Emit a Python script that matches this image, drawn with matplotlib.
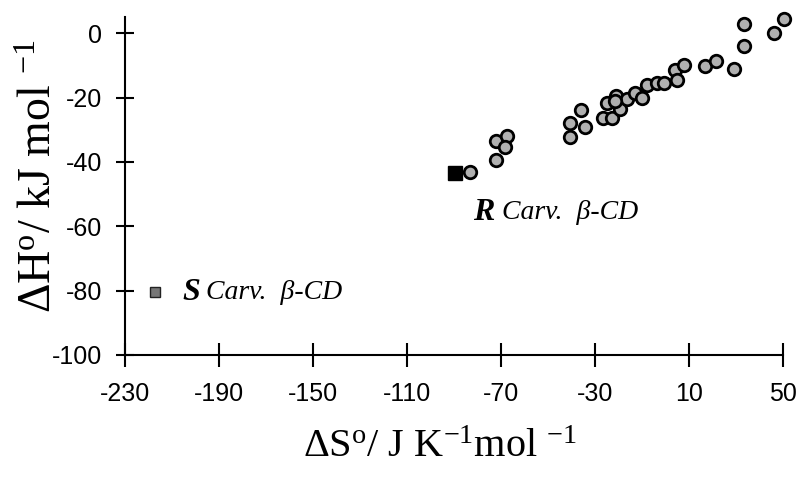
import matplotlib
matplotlib.use('Agg')
import matplotlib.pyplot as plt

# Entropy / enthalpy pairs
dS_other = [-83.1, -72.1, -72.2, -67.4, -68.5, -40.8, -40.8, -36.1, -34.1,
            -26.5, -22.6, -25.1, -19.5, -20.9, -16.4, -12.9, -10.0, -7.9,
            -3.7, -0.9, 4.0, 4.8, 8.0, 16.7, 21.3, 29.0, 33.4, 33.4, 46.1, 50.2,
            -21.5]
dH_other = [-43.0, -39.4, -33.4, -32.0, -35.3, -32.2, -27.9, -23.9, -29.3,
            -26.5, -26.2, -21.8, -23.4, -19.6, -20.3, -18.7, -20.0, -16.1,
            -15.4, -15.4, -11.5, -14.4, -9.9, -10.1, -8.7, -11.2, -3.9, 3.0, 0.1, 4.3,
            -21.2]

dS_R, dH_R = -89.4, -43.4
dS_S, dH_S = -217.3, -80.5

x_ticks = [-230, -190, -150, -110, -70, -30, 10, 50]
y_ticks = [0, -20, -40, -60, -80, -100]

plt.rcParams['mathtext.fontset'] = 'custom'
plt.rcParams['mathtext.rm'] = 'Liberation Serif'
plt.rcParams['mathtext.it'] = 'Liberation Serif:italic'
plt.rcParams['mathtext.default'] = 'regular'

fig = plt.figure(figsize=(8, 4.82), dpi=100)
ax = fig.add_axes([0.156, 0.2635, 0.823, 0.701])

ax.plot(dS_other, dH_other, 'o', markersize=9, markerfacecolor='#b0b0b0',
        markeredgecolor='black', markeredgewidth=2.0, clip_on=False, zorder=3)
ax.plot([dS_R], [dH_R], 's', markersize=10.5, color='black', clip_on=False, zorder=3)
ax.plot([dS_S], [dH_S], 's', markersize=7, markerfacecolor='#777777',
        markeredgecolor='#222222', markeredgewidth=1, clip_on=False, zorder=3)

# labels for the two carvone points
ax.text(-82, -55.6, 'R', fontfamily='Liberation Serif', fontsize=23,
        fontweight='bold', fontstyle='italic', ha='left', va='center')
ax.annotate('Carv.  β-CD', xy=(-82, -55.6), xytext=(21, 0), textcoords='offset points',
            fontfamily='Liberation Serif', fontsize=20, fontstyle='italic',
            ha='left', va='center')
ax.text(-205.5, -80.7, 'S', fontfamily='Liberation Serif', fontsize=23,
        fontweight='bold', fontstyle='italic', ha='left', va='center')
ax.annotate('Carv.  β-CD', xy=(-205.5, -80.7), xytext=(17, 0), textcoords='offset points',
            fontfamily='Liberation Serif', fontsize=20, fontstyle='italic',
            ha='left', va='center')

ax.set_xlim(-230, 50)
ax.set_ylim(-100, 5)
ax.set_xticks(x_ticks)
ax.set_yticks(y_ticks)
ax.set_xticklabels([str(v) for v in x_ticks], fontfamily='Liberation Sans', fontsize=18)
ax.set_yticklabels([str(v) for v in y_ticks], fontfamily='Liberation Sans', fontsize=18)

for s in ['top', 'right']:
    ax.spines[s].set_visible(False)
for s in ['left', 'bottom']:
    ax.spines[s].set_linewidth(1.5)
ax.tick_params(axis='x', direction='inout', length=17, width=1.5, pad=11)
ax.tick_params(axis='y', direction='inout', length=13, width=1.5, pad=10)

fig.text(0.55, 0.072, r'$\Delta$S$^{o}$/ J K$^{-1}$mol $^{-1}$', fontfamily='Liberation Serif',
         fontsize=29, ha='center', va='center')
fig.text(0.05, 0.635, r'$\Delta$H$^{o}$/ kJ mol $^{-1}$', fontfamily='Liberation Serif',
         fontsize=33, ha='center', va='center', rotation=90)

fig.savefig('out.png', dpi=100)
